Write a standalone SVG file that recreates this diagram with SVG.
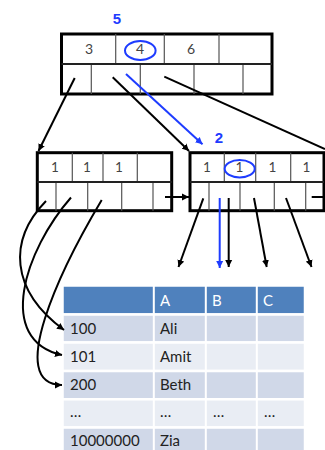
<svg xmlns="http://www.w3.org/2000/svg" width="325" height="450" viewBox="0 0 325 450">
<style>
.outer{fill:#fff;stroke:#000;stroke-width:3}
.grid{stroke:#555;stroke-width:1.2;fill:none}
.mid{stroke:#222;stroke-width:2;fill:none}
.key{font-family:Lato,"Open Sans",sans-serif;fill:#444;text-anchor:middle}
.blue{font-family:"Liberation Sans",Arial,sans-serif;font-weight:bold;font-size:15px;fill:#1E3CFF;text-anchor:middle}
.ln{stroke:#000;stroke-width:2;fill:none;marker-end:url(#ah)}
.bl{stroke:#1E3CFF;stroke-width:2;fill:none;marker-end:url(#ahb)}
.cell{font-family:Lato,"Open Sans",sans-serif;font-size:15px;fill:#222}
.hdr{font-family:Lato,"Open Sans",sans-serif;font-size:15px;fill:#fff}
.row{stroke:#fff;stroke-width:2.5}
</style>
<defs>
<marker id="ah" markerUnits="userSpaceOnUse" markerWidth="8" markerHeight="8" refX="7" refY="4" orient="auto"><path d="M0,0.5 L7,4 L0,7.5 z" fill="#000"/></marker>
<marker id="ahb" markerUnits="userSpaceOnUse" markerWidth="8" markerHeight="8" refX="7" refY="4" orient="auto"><path d="M0,0.5 L7,4 L0,7.5 z" fill="#1E3CFF"/></marker>
</defs>

<g id="table">
<rect class="row" x="62.5" y="285.5" width="242.5" height="29" fill="#4F81BD"/>
<rect class="row" x="62.5" y="314.5" width="242.5" height="28" fill="#D0D8E8"/>
<rect class="row" x="62.5" y="342.5" width="242.5" height="28.5" fill="#E9EDF4"/>
<rect class="row" x="62.5" y="371" width="242.5" height="28.3" fill="#D0D8E8"/>
<rect class="row" x="62.5" y="399.3" width="242.5" height="28.2" fill="#E9EDF4"/>
<rect class="row" x="62.5" y="427.5" width="242.5" height="28" fill="#D0D8E8"/>
<g stroke="#fff" stroke-width="2">
<line x1="153.8" y1="285" x2="153.8" y2="456"/>
<line x1="205.8" y1="285" x2="205.8" y2="456"/>
<line x1="256.8" y1="285" x2="256.8" y2="456"/>
</g>
<text class="hdr" x="160" y="306">A</text>
<text class="hdr" x="212" y="306">B</text>
<text class="hdr" x="263" y="306">C</text>
<text class="cell" x="70" y="334">100</text>
<text class="cell" x="160" y="334">Ali</text>
<text class="cell" x="70" y="362">101</text>
<text class="cell" x="160" y="362">Amit</text>
<text class="cell" x="70" y="390">200</text>
<text class="cell" x="160" y="390">Beth</text>
<text class="cell" x="70" y="417" fill="#555">…</text>
<text class="cell" x="160" y="417" fill="#555">…</text>
<text class="cell" x="213" y="417" fill="#555">…</text>
<text class="cell" x="264" y="417" fill="#555">…</text>
<text class="cell" x="70" y="446">10000000</text>
<text class="cell" x="160" y="446">Zia</text>
</g>

<g id="root">
<rect class="outer" x="61.5" y="34" width="210.5" height="60"/>
<path class="grid" d="M115.7,34V64 M164.3,34V64 M219,34V64 M91.3,64V94 M140.3,64V94 M194,64V94 M243,64V94"/>
<path class="mid" d="M61.5,64H272"/>
<text class="key" x="89" y="54" font-size="14">3</text>
<text class="key" x="140" y="54" font-size="14">4</text>
<text class="key" x="191" y="54" font-size="14">6</text>
<ellipse cx="140.3" cy="50.5" rx="15.3" ry="9.5" fill="none" stroke="#1E3CFF" stroke-width="2"/>
<text class="blue" x="117" y="23.5">5</text>
</g>

<g id="leftnode">
<rect class="outer" x="37.3" y="152.7" width="134.4" height="58"/>
<path class="grid" d="M72.3,152.7V182 M103,152.7V182 M137.3,152.7V182 M56,182V210.7 M87.7,182V210.7 M121.7,182V210.7 M153,182V210.7"/>
<path class="mid" d="M37.3,182H171.7"/>
<text class="key" x="55" y="171.5" font-size="13.5">1</text>
<text class="key" x="87" y="171.5" font-size="13.5">1</text>
<text class="key" x="119" y="171.5" font-size="13.5">1</text>
</g>

<g id="rightnode">
<rect class="outer" x="190" y="152.7" width="134" height="58"/>
<path class="grid" d="M224.3,152.7V182 M255.7,152.7V182 M290.7,152.7V182 M209,182V210.7 M240,182V210.7 M274.3,182V210.7 M305.7,182V210.7"/>
<path class="mid" d="M190,182H324"/>
<text class="key" x="207" y="171.5" font-size="13.5">1</text>
<text class="key" x="239.5" y="171.5" font-size="13.5">1</text>
<text class="key" x="272.5" y="171.5" font-size="13.5">1</text>
<text class="key" x="306.5" y="171.5" font-size="13.5">1</text>
<ellipse cx="239.7" cy="168.7" rx="15" ry="8.7" fill="none" stroke="#1E3CFF" stroke-width="2"/>
<text class="blue" x="219" y="143.3" font-size="16">2</text>
</g>

<g id="connectors">
<line class="ln" x1="74.7" y1="78" x2="38.5" y2="151"/>
<line class="ln" x1="112.7" y1="77.3" x2="189" y2="151"/>
<line class="bl" x1="126" y1="74" x2="202.5" y2="144.3"/>
<line stroke="#000" stroke-width="2" x1="164.3" y1="76.7" x2="325" y2="149"/>
<line class="ln" x1="165" y1="197" x2="189" y2="197"/>
<line stroke="#000" stroke-width="2" x1="311.7" y1="197" x2="325" y2="197"/>
<line class="ln" x1="203.3" y1="198.3" x2="178.5" y2="267"/>
<line class="bl" x1="219.7" y1="198" x2="219.7" y2="268"/>
<line class="ln" x1="228.7" y1="198" x2="228.7" y2="267"/>
<line class="ln" x1="254" y1="198" x2="266.7" y2="267"/>
<line class="ln" x1="286" y1="198" x2="311.5" y2="267"/>
<path class="ln" d="M46,201 C 8,240 10,290 64,330"/>
<path class="ln" d="M71,197.5 C 25,250 -5,340 62,355"/>
<path class="ln" d="M101.7,200 C 60,270 5,385 62,385"/>
</g>
</svg>
